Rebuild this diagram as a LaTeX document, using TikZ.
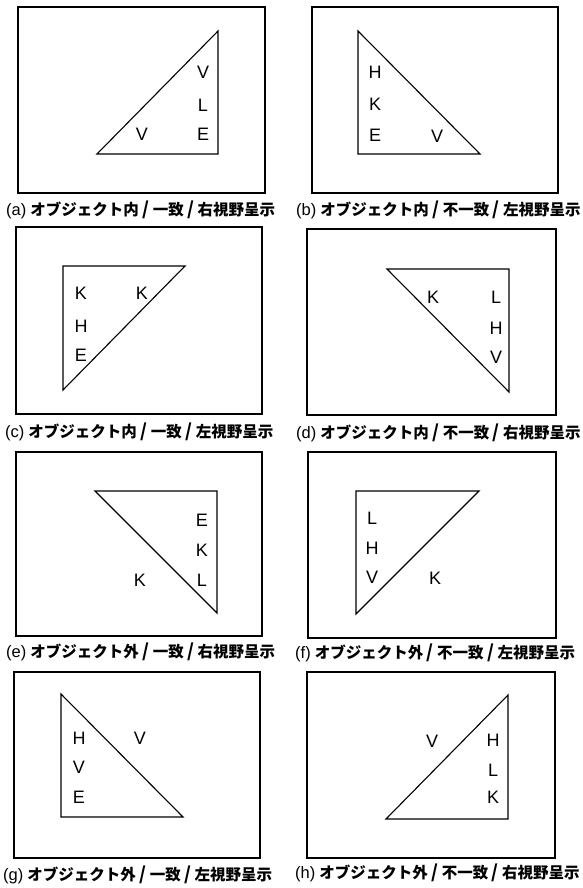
\documentclass[tikz,border=0pt]{standalone}
\usepackage{fontspec}
\setmainfont{Liberation Sans}
\newfontfamily\jp{Noto Sans CJK JP}
\tikzset{
  frame/.style={draw=black, line width=1.6pt},
  tri/.style={draw=black, line width=1.1pt, line join=miter},
  let/.style={font=\fontsize{18}{18}\selectfont, inner sep=0pt},
  captxt/.style={anchor=west, inner sep=0pt, font=\fontsize{15.5}{16}\selectfont}
}
\newcommand{\myslash}{\hspace{3.5pt}{\fontsize{18}{18}\selectfont\bfseries /}\hspace{3.5pt}}
\newcommand{\capt}[4]{{\fontsize{16.5}{17}\selectfont(#1)}\hspace{4pt}{\jp\bfseries #2\myslash #3\myslash #4}}
\begin{document}
\begin{tikzpicture}[x=1pt,y=-1pt]
\useasboundingbox (0,0) rectangle (583,888);
% (a)
\draw[frame] (18,7) rectangle (265,193);
\draw[tri] (97,154) -- (218,31) -- (218,154) -- cycle;
\node[let] (a1) at (203,72) {V};
\node[let] (a2) at (203,105) {L};
\node[let] (a3) at (203,134) {E};
\node[let] (a4) at (142,134) {V};
\node[captxt] (ac) at (6,210) {\capt{a}{オブジェクト内}{一致}{右視野呈示}};
% (b)
\draw[frame] (312,7) rectangle (558,193);
\draw[tri] (358,31) -- (358,154) -- (480,154) -- cycle;
\node[let] (b1) at (375,72) {H};
\node[let] (b2) at (375,104) {K};
\node[let] (b3) at (375,135) {E};
\node[let] (b4) at (437,136) {V};
\node[captxt] (bc) at (296,210) {\capt{b}{オブジェクト内}{不一致}{左視野呈示}};
% (c)
\draw[frame] (16,227) rectangle (262,414);
\draw[tri] (63,266) -- (185,266) -- (63,390) -- cycle;
\node[let] (c1) at (81,293) {K};
\node[let] (c2) at (81,326) {H};
\node[let] (c3) at (81,355) {E};
\node[let] (c4) at (142,293) {K};
\node[captxt] (cc) at (5,432) {\capt{c}{オブジェクト内}{一致}{左視野呈示}};
% (d)
\draw[frame] (307,229) rectangle (556,415);
\draw[tri] (387,269) -- (509,269) -- (509,392) -- cycle;
\node[let] (d1) at (433,297) {K};
\node[let] (d2) at (496,297) {L};
\node[let] (d3) at (496,328) {H};
\node[let] (d4) at (496,357) {V};
\node[captxt] (dc) at (296,433) {\capt{d}{オブジェクト内}{不一致}{右視野呈示}};
% (e)
\draw[frame] (16,452) rectangle (262,636);
\draw[tri] (95,491) -- (217,491) -- (217,613) -- cycle;
\node[let] (e1) at (202,520) {E};
\node[let] (e2) at (202,550) {K};
\node[let] (e3) at (202,580) {L};
\node[let] (e4) at (140,580) {K};
\node[captxt] (ec) at (6,652) {\capt{e}{オブジェクト外}{一致}{右視野呈示}};
% (f)
\draw[frame] (308,452) rectangle (556,638);
\draw[tri] (356,491) -- (479,491) -- (356,614) -- cycle;
\node[let] (f1) at (372,518) {L};
\node[let] (f2) at (372,548) {H};
\node[let] (f3) at (372,577) {V};
\node[let] (f4) at (435,578) {K};
\node[captxt] (fc) at (295,653) {\capt{f}{オブジェクト外}{不一致}{左視野呈示}};
% (g)
\draw[frame] (14,672) rectangle (260,858);
\draw[tri] (61,694) -- (61,817) -- (183,817) -- cycle;
\node[let] (g1) at (79,738) {H};
\node[let] (g2) at (79,767) {V};
\node[let] (g3) at (79,797) {E};
\node[let] (g4) at (140,738) {V};
\node[captxt] (gc) at (3,875) {\capt{g}{オブジェクト外}{一致}{左視野呈示}};
% (h)
\draw[frame] (307,672) rectangle (555,858);
\draw[tri] (386,819) -- (508,695) -- (508,819) -- cycle;
\node[let] (h1) at (493,740) {H};
\node[let] (h2) at (493,770) {L};
\node[let] (h3) at (493,797) {K};
\node[let] (h4) at (432,741) {V};
\node[captxt] (hc) at (295,873) {\capt{h}{オブジェクト外}{不一致}{右視野呈示}};
\end{tikzpicture}
\end{document}
